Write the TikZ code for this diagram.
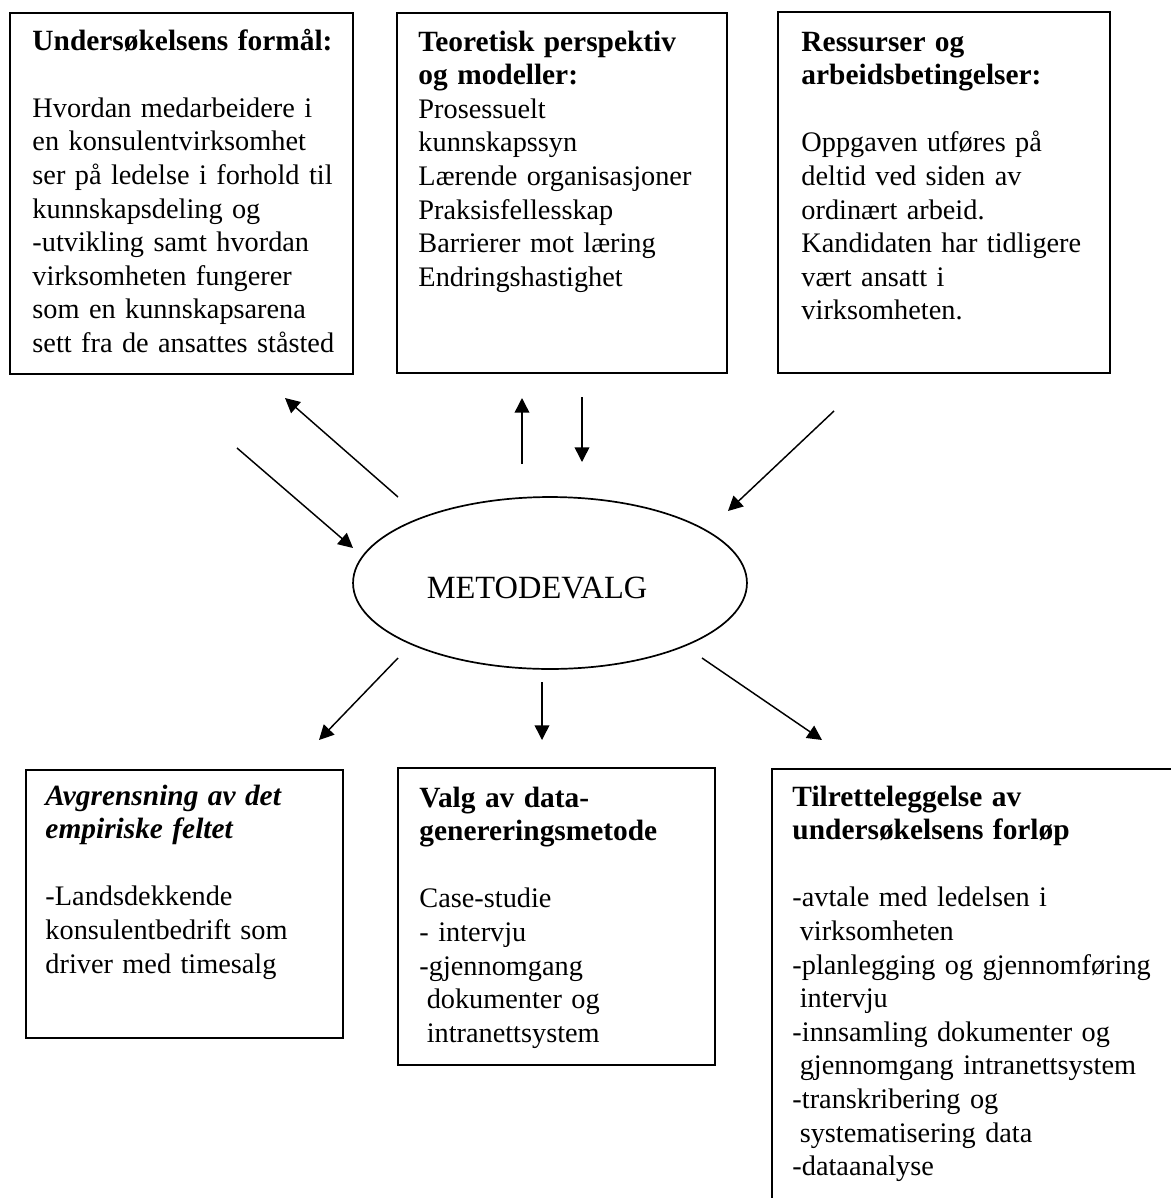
\documentclass[tikz,border=0pt]{standalone}
\usepackage{fontspec}
\setmainfont{Liberation Serif}
\usetikzlibrary{arrows.meta,fit,shapes.geometric}
\newcommand\hdline[1]{{\fontsize{12.05}{13.78}\selectfont\bfseries #1}}
\begin{document}
\begin{tikzpicture}[x=0.41pt,y=-0.41pt,
  box/.style={draw,line width=0.7pt,inner sep=0pt},
  txt/.style={anchor=base west,inner sep=0pt,text width=175pt,align=left,font=\fontsize{11.6}{13.78}\selectfont},
  conn/.style={line width=0.6pt,-{Triangle[length=6pt,width=6pt]}}]
\useasboundingbox (0,0) rectangle (1171,1198);
\clip (0,0) rectangle (1171,1198);
% boxes
\node[box,fit={(10,13) (353,374)}] (b1) {};
\node[box,fit={(397,13) (727,373)}] (b2) {};
\node[box,fit={(778,12) (1110,373)}] (b3) {};
\node[box,fit={(26,770) (343,1038)}] (b4) {};
\node[box,fit={(398,768) (715,1065)}] (b5) {};
\node[box,fit={(772,769) (1200,1240)}] (b6) {};
% texts
\node[txt] (t1) at (32,50) {\hdline{Undersøkelsens formål:}\\[13.78pt]
Hvordan medarbeidere i\\
en konsulentvirksomhet\\
ser på ledelse i forhold til\\
kunnskapsdeling og\\
-utvikling samt hvordan\\
virksomheten fungerer\\
som en kunnskapsarena\\
sett fra de ansattes ståsted};
\node[txt] (t2) at (418,51) {\hdline{Teoretisk perspektiv}\\
\hdline{og modeller:}\\
Prosessuelt\\
kunnskapssyn\\
Lærende organisasjoner\\
Praksisfellesskap\\
Barrierer mot læring\\
Endringshastighet};
\node[txt] (t3) at (801,51) {\hdline{Ressurser og}\\
\hdline{arbeidsbetingelser:}\\[13.78pt]
Oppgaven utføres på\\
deltid ved siden av\\
ordinært arbeid.\\
Kandidaten har tidligere\\
vært ansatt i\\
virksomheten.};
\node[txt] (t4) at (45,805) {\hdline{\itshape Avgrensning av det}\\
\hdline{\itshape empiriske feltet}\\[13.78pt]
-Landsdekkende\\
konsulentbedrift som\\
driver med timesalg};
\node[txt] (t5) at (419,807) {\hdline{Valg av data-}\\
\hdline{genereringsmetode}\\[13.78pt]
Case-studie\\
- intervju\\
-gjennomgang\\
\hspace*{3pt}dokumenter og\\
\hspace*{3pt}intranettsystem};
\node[txt] (t6) at (792,806) {\hdline{Tilretteleggelse av}\\
\hdline{undersøkelsens forløp}\\[13.78pt]
-avtale med ledelsen i\\
\hspace*{3pt}virksomheten\\
-planlegging og gjennomføring\\
\hspace*{3pt}intervju\\
-innsamling dokumenter og\\
\hspace*{3pt}gjennomgang intranettsystem\\
-transkribering og\\
\hspace*{3pt}systematisering data\\
-dataanalyse};
% ellipse
\node[draw,ellipse,line width=0.7pt,inner sep=0pt,minimum width=161.5pt,minimum height=70.5pt] (m) at (550,583) {};
\node[anchor=base,inner sep=0pt,font=\fontsize{13.3}{15}\selectfont] (mt) at (537,598) {METODEVALG};
% arrow end points
\coordinate (s1) at (398,497); \coordinate (e1) at (285,398);
\coordinate (s2) at (237,448); \coordinate (e2) at (353,548);
\coordinate (s3) at (522,464); \coordinate (e3) at (522,398);
\coordinate (s4) at (582,397); \coordinate (e4) at (582,462);
\coordinate (s5) at (834,411); \coordinate (e5) at (728,511);
\coordinate (s6) at (398,658); \coordinate (e6) at (319,740);
\coordinate (s7) at (542,682); \coordinate (e7) at (542,740);
\coordinate (s8) at (702,658); \coordinate (e8) at (822,740);
\foreach \i in {1,...,8} {\draw[conn] (s\i) -- (e\i);}
\end{tikzpicture}
\end{document}
